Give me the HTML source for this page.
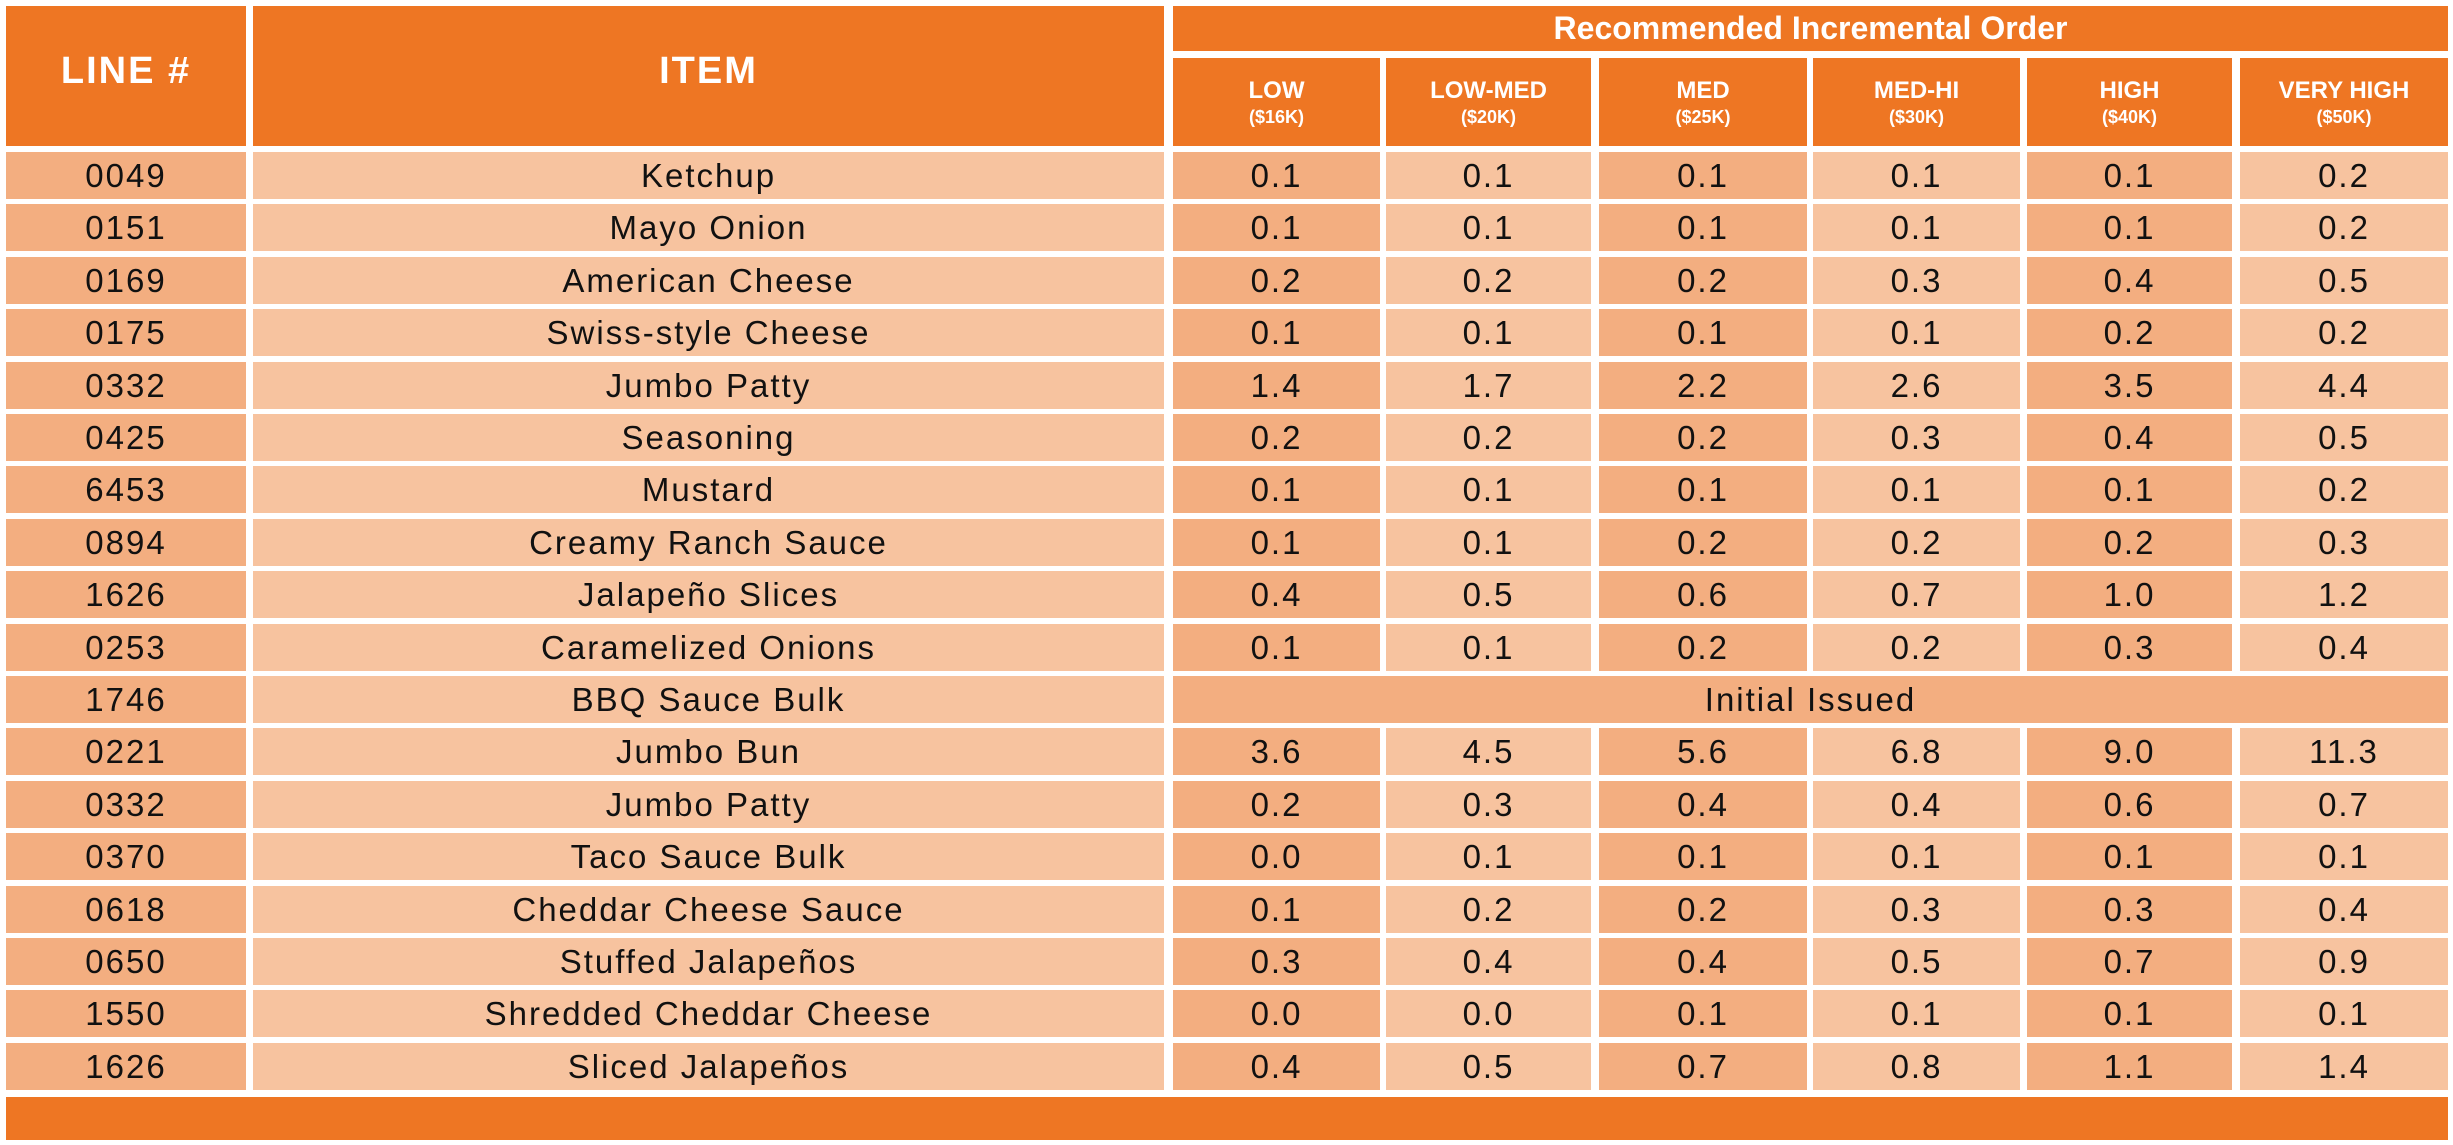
<!DOCTYPE html>
<html><head><meta charset="utf-8"><style>
body{margin:0;width:2453px;height:1145px;background:#fff;position:relative;overflow:hidden;font-family:"Liberation Sans",sans-serif}
.c{position:absolute;display:flex;align-items:center;justify-content:center;color:#111;font-size:33px;letter-spacing:2px}
.h{background:#EE7623;color:#fff;font-weight:bold}
.l{background:#F7C39F}.d{background:#F3AE80}
.r{position:absolute;left:0;width:2453px;height:47px}
.r .c{top:0;height:47px}
.a{left:6px;width:240px}.b{left:253px;width:911px}
.x1{left:1173px;width:207px}.x2{left:1386px;width:205px}.x3{left:1599px;width:208px}
.x4{left:1813px;width:207px}.x5{left:2027px;width:205px}.x6{left:2240px;width:208px}
.sub{flex-direction:column;line-height:1.3}
.sub b{font-size:24px;letter-spacing:0}.sub i{font-style:normal;font-size:18px;letter-spacing:0}
</style></head><body>
<div class="c h a" style="top:6px;height:140px;font-size:38px;padding-bottom:10px;box-sizing:border-box">LINE #</div>
<div class="c h b" style="top:6px;height:140px;font-size:38px;padding-bottom:10px;box-sizing:border-box">ITEM</div>
<div class="c h" style="left:1173px;width:1275px;top:6px;height:45px;font-size:32px;letter-spacing:0">Recommended Incremental Order</div>
<div class="c h sub x1" style="top:58px;height:88px"><b>LOW</b><i>($16K)</i></div>
<div class="c h sub x2" style="top:58px;height:88px"><b>LOW-MED</b><i>($20K)</i></div>
<div class="c h sub x3" style="top:58px;height:88px"><b>MED</b><i>($25K)</i></div>
<div class="c h sub x4" style="top:58px;height:88px"><b>MED-HI</b><i>($30K)</i></div>
<div class="c h sub x5" style="top:58px;height:88px"><b>HIGH</b><i>($40K)</i></div>
<div class="c h sub x6" style="top:58px;height:88px"><b>VERY HIGH</b><i>($50K)</i></div>

<div class="r" style="top:152px"><div class="c d a">0049</div><div class="c l b">Ketchup</div><div class="c d x1">0.1</div><div class="c l x2">0.1</div><div class="c d x3">0.1</div><div class="c l x4">0.1</div><div class="c d x5">0.1</div><div class="c l x6">0.2</div></div>
<div class="r" style="top:204px"><div class="c d a">0151</div><div class="c l b">Mayo Onion</div><div class="c d x1">0.1</div><div class="c l x2">0.1</div><div class="c d x3">0.1</div><div class="c l x4">0.1</div><div class="c d x5">0.1</div><div class="c l x6">0.2</div></div>
<div class="r" style="top:257px"><div class="c d a">0169</div><div class="c l b">American Cheese</div><div class="c d x1">0.2</div><div class="c l x2">0.2</div><div class="c d x3">0.2</div><div class="c l x4">0.3</div><div class="c d x5">0.4</div><div class="c l x6">0.5</div></div>
<div class="r" style="top:309px"><div class="c d a">0175</div><div class="c l b">Swiss-style Cheese</div><div class="c d x1">0.1</div><div class="c l x2">0.1</div><div class="c d x3">0.1</div><div class="c l x4">0.1</div><div class="c d x5">0.2</div><div class="c l x6">0.2</div></div>
<div class="r" style="top:362px"><div class="c d a">0332</div><div class="c l b">Jumbo Patty</div><div class="c d x1">1.4</div><div class="c l x2">1.7</div><div class="c d x3">2.2</div><div class="c l x4">2.6</div><div class="c d x5">3.5</div><div class="c l x6">4.4</div></div>
<div class="r" style="top:414px"><div class="c d a">0425</div><div class="c l b">Seasoning</div><div class="c d x1">0.2</div><div class="c l x2">0.2</div><div class="c d x3">0.2</div><div class="c l x4">0.3</div><div class="c d x5">0.4</div><div class="c l x6">0.5</div></div>
<div class="r" style="top:466px"><div class="c d a">6453</div><div class="c l b">Mustard</div><div class="c d x1">0.1</div><div class="c l x2">0.1</div><div class="c d x3">0.1</div><div class="c l x4">0.1</div><div class="c d x5">0.1</div><div class="c l x6">0.2</div></div>
<div class="r" style="top:519px"><div class="c d a">0894</div><div class="c l b">Creamy Ranch Sauce</div><div class="c d x1">0.1</div><div class="c l x2">0.1</div><div class="c d x3">0.2</div><div class="c l x4">0.2</div><div class="c d x5">0.2</div><div class="c l x6">0.3</div></div>
<div class="r" style="top:571px"><div class="c d a">1626</div><div class="c l b">Jalapeño Slices</div><div class="c d x1">0.4</div><div class="c l x2">0.5</div><div class="c d x3">0.6</div><div class="c l x4">0.7</div><div class="c d x5">1.0</div><div class="c l x6">1.2</div></div>
<div class="r" style="top:624px"><div class="c d a">0253</div><div class="c l b">Caramelized Onions</div><div class="c d x1">0.1</div><div class="c l x2">0.1</div><div class="c d x3">0.2</div><div class="c l x4">0.2</div><div class="c d x5">0.3</div><div class="c l x6">0.4</div></div>
<div class="r" style="top:676px"><div class="c d a">1746</div><div class="c l b">BBQ Sauce Bulk</div><div class="c d" style="left:1173px;width:1275px">Initial Issued</div></div>
<div class="r" style="top:728px"><div class="c d a">0221</div><div class="c l b">Jumbo Bun</div><div class="c d x1">3.6</div><div class="c l x2">4.5</div><div class="c d x3">5.6</div><div class="c l x4">6.8</div><div class="c d x5">9.0</div><div class="c l x6">11.3</div></div>
<div class="r" style="top:781px"><div class="c d a">0332</div><div class="c l b">Jumbo Patty</div><div class="c d x1">0.2</div><div class="c l x2">0.3</div><div class="c d x3">0.4</div><div class="c l x4">0.4</div><div class="c d x5">0.6</div><div class="c l x6">0.7</div></div>
<div class="r" style="top:833px"><div class="c d a">0370</div><div class="c l b">Taco Sauce Bulk</div><div class="c d x1">0.0</div><div class="c l x2">0.1</div><div class="c d x3">0.1</div><div class="c l x4">0.1</div><div class="c d x5">0.1</div><div class="c l x6">0.1</div></div>
<div class="r" style="top:886px"><div class="c d a">0618</div><div class="c l b">Cheddar Cheese Sauce</div><div class="c d x1">0.1</div><div class="c l x2">0.2</div><div class="c d x3">0.2</div><div class="c l x4">0.3</div><div class="c d x5">0.3</div><div class="c l x6">0.4</div></div>
<div class="r" style="top:938px"><div class="c d a">0650</div><div class="c l b">Stuffed Jalapeños</div><div class="c d x1">0.3</div><div class="c l x2">0.4</div><div class="c d x3">0.4</div><div class="c l x4">0.5</div><div class="c d x5">0.7</div><div class="c l x6">0.9</div></div>
<div class="r" style="top:990px"><div class="c d a">1550</div><div class="c l b">Shredded Cheddar Cheese</div><div class="c d x1">0.0</div><div class="c l x2">0.0</div><div class="c d x3">0.1</div><div class="c l x4">0.1</div><div class="c d x5">0.1</div><div class="c l x6">0.1</div></div>
<div class="r" style="top:1043px"><div class="c d a">1626</div><div class="c l b">Sliced Jalapeños</div><div class="c d x1">0.4</div><div class="c l x2">0.5</div><div class="c d x3">0.7</div><div class="c l x4">0.8</div><div class="c d x5">1.1</div><div class="c l x6">1.4</div></div>

<div style="position:absolute;left:6px;width:2442px;top:1097px;height:43px;background:#EE7623"></div>
</body></html>
